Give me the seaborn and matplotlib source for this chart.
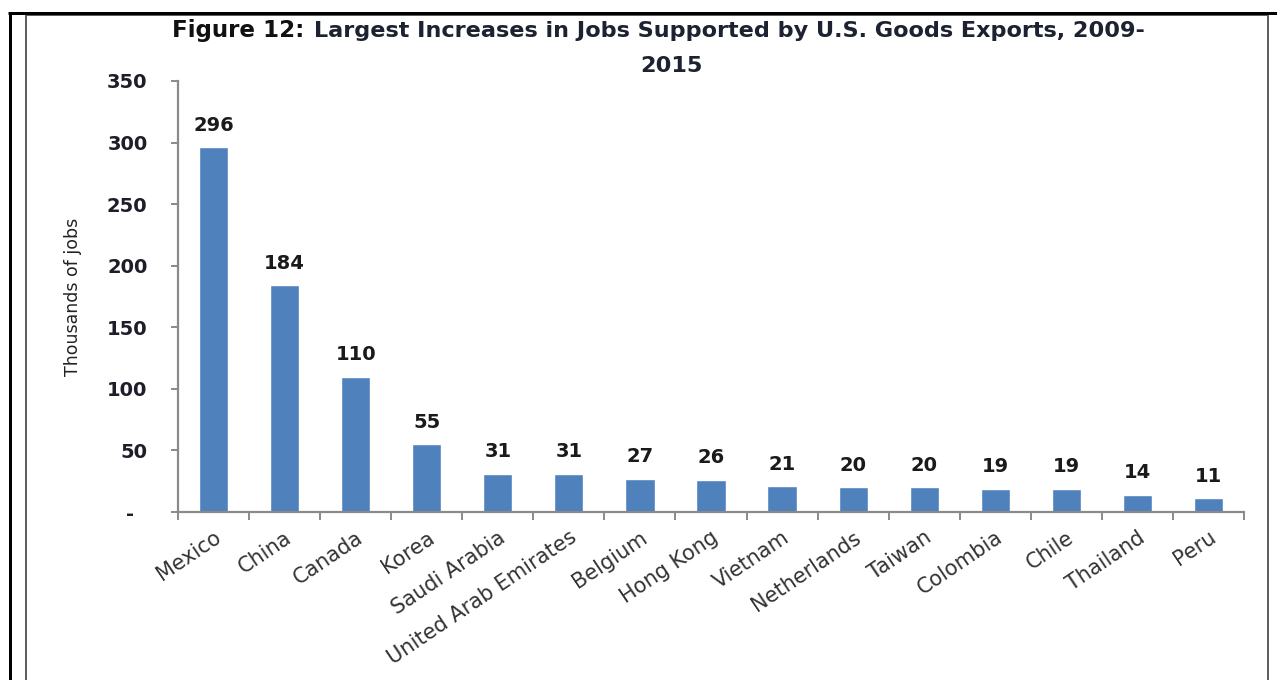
import matplotlib
matplotlib.use("Agg")
import matplotlib.pyplot as plt
from matplotlib.lines import Line2D
from matplotlib.patches import Rectangle
import seaborn as sns
import pandas as pd

countries = ["Mexico", "China", "Canada", "Korea", "Saudi Arabia",
             "United Arab Emirates", "Belgium", "Hong Kong", "Vietnam",
             "Netherlands", "Taiwan", "Colombia", "Chile", "Thailand", "Peru"]
jobs = [296, 184, 110, 55, 31, 31, 27, 26, 21, 20, 20, 19, 19, 14, 11]
y_ticks = [0, 50, 100, 150, 200, 250, 300, 350]
y_tick_labels = ["-  ", "50", "100", "150", "200", "250", "300", "350"]
title_lead = "Figure 12:"
title_rest = "Largest Increases in Jobs Supported by U.S. Goods Exports, 2009-"
title_line2 = "2015"
y_label = "Thousands of jobs"

sns.set_theme(style="white")
plt.rcParams["font.family"] = ["DejaVu Sans"]

W, H = 1277, 680
fig = plt.figure(figsize=(W / 100, H / 100), dpi=100)
fig.patch.set_facecolor("white")

def fx(px):
    return px / W

def fy(py):
    return 1 - py / H

ax = fig.add_axes([fx(178), fy(512), fx(1244 - 178), (512 - 81) / H])
df = pd.DataFrame({"country": countries, "jobs": jobs})
sns.barplot(data=df, x="country", y="jobs", color="#4F81BD", saturation=1,
            width=0.41, ax=ax)

ax.set_xlim(-0.5, len(countries) - 0.5)
ax.set_ylim(0, 350)
ax.set_yticks(y_ticks)
ax.set_yticklabels(y_tick_labels, fontsize=14, fontweight="bold", color="#1e1e2a")
ax.set_xlabel("")
ax.set_ylabel(y_label, fontsize=12.5, color="#222222", labelpad=18)

axis_col = "#8a8a8a"
for s in ["top", "right"]:
    ax.spines[s].set_visible(False)
for s in ["left", "bottom"]:
    ax.spines[s].set_color(axis_col)
    ax.spines[s].set_linewidth(1.6)

ax.tick_params(axis="y", which="major", direction="out", length=5, width=1.4,
               color=axis_col, pad=17, left=True)
ax.set_xticks(range(len(countries)))
ax.set_xticklabels(countries, rotation=34, ha="right", rotation_mode="anchor",
                   fontsize=15, color="#333333")
ax.tick_params(axis="x", which="major", length=0, pad=11)
ax.set_xticks([i - 0.5 for i in range(len(countries) + 1)], minor=True)
ax.tick_params(axis="x", which="minor", direction="out", length=6, width=1.4,
               color=axis_col, bottom=True)

for i, v in enumerate(jobs):
    ax.annotate(str(v), (i, v), xytext=(0, 9), textcoords="offset points",
                ha="center", va="bottom", fontsize=14, fontweight="bold",
                color="#1a1a1a")

# Title
t1 = fig.text(fx(172), fy(30), title_lead, fontsize=16.6, fontweight="bold",
              color="#111111", ha="left", va="center")
fig.canvas.draw()
bb = t1.get_window_extent(renderer=fig.canvas.get_renderer())
fig.text((bb.x1 + 10) / W, fy(31), title_rest, fontsize=16.1, fontweight="bold",
         color="#1c2230", ha="left", va="center")
fig.text(fx(672), fy(66), title_line2, fontsize=16.1, fontweight="bold",
         color="#1c2230", ha="center", va="center")

# Frames
px2pt = 0.72
fig.add_artist(Line2D([fx(9.5), fx(9.5)], [fy(12), 0], transform=fig.transFigure,
                      color="black", linewidth=3 * px2pt, solid_capstyle="butt"))
fig.add_artist(Line2D([fx(8), 1], [fy(13), fy(13)], transform=fig.transFigure,
                      color="black", linewidth=3 * px2pt, solid_capstyle="butt"))
fig.add_artist(Rectangle((fx(26), -0.05), fx(1268 - 26), fy(15) + 0.05,
                         transform=fig.transFigure, fill=False,
                         edgecolor="#5e5e5e", linewidth=2 * px2pt))

fig.savefig("out.png", dpi=100, facecolor="white")
